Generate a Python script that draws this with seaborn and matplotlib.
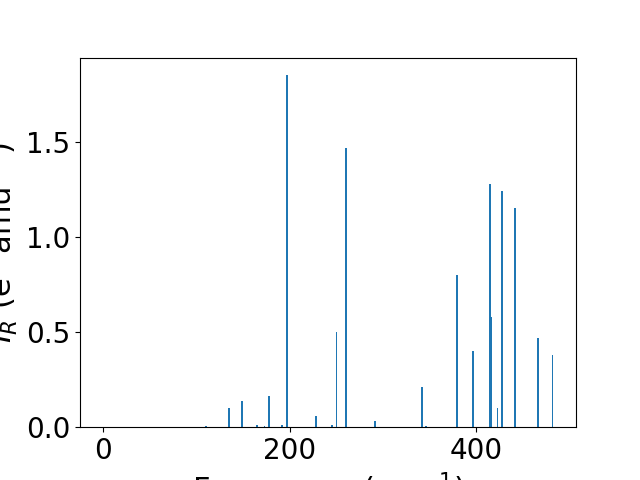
import matplotlib
matplotlib.use("Agg")
import matplotlib.pyplot as plt
import seaborn as sns
import pandas as pd

frequencies = [0.0, 110.0, 134.8, 148.8, 165.0, 172.8, 177.8, 191.4, 197.2,
               228.4, 244.8, 249.9, 259.9, 291.0, 341.6, 345.6, 379.2, 396.5,
               415.0, 416.2, 422.6, 427.6, 441.6, 466.3, 481.7]
intensities = [0.0, 0.005, 0.10, 0.137, 0.01, 0.005, 0.163, 0.01, 1.85,
               0.058, 0.01, 0.50, 1.47, 0.03, 0.21, 0.005, 0.80, 0.40,
               1.28, 0.58, 0.10, 1.24, 1.15, 0.47, 0.38]

df = pd.DataFrame({"freq": frequencies, "ir": intensities})

plt.rcParams["font.family"] = ["DejaVu Sans"]
fig, ax = plt.subplots(figsize=(6.4, 4.8), dpi=100)
sns.barplot(data=df, x="freq", y="ir", native_scale=True, width=1.6,
            color="#1f77b4", saturation=1, errorbar=None, ax=ax)
ax.set_xlabel(r"Frequency (cm$^{-1}$)", fontsize=22)
ax.set_ylabel(r"$I_R$ (e$^2$ amu$^{-1}$)", fontsize=22)
ax.tick_params(labelsize=20)
ax.set_xticks([0, 200, 400])
ax.set_yticks([0.0, 0.5, 1.0, 1.5])
ax.margins(x=0.05, y=0.05)
ax.set_ylim(0, 1.85 * 1.05)
fig.savefig("out.png", dpi=100)
